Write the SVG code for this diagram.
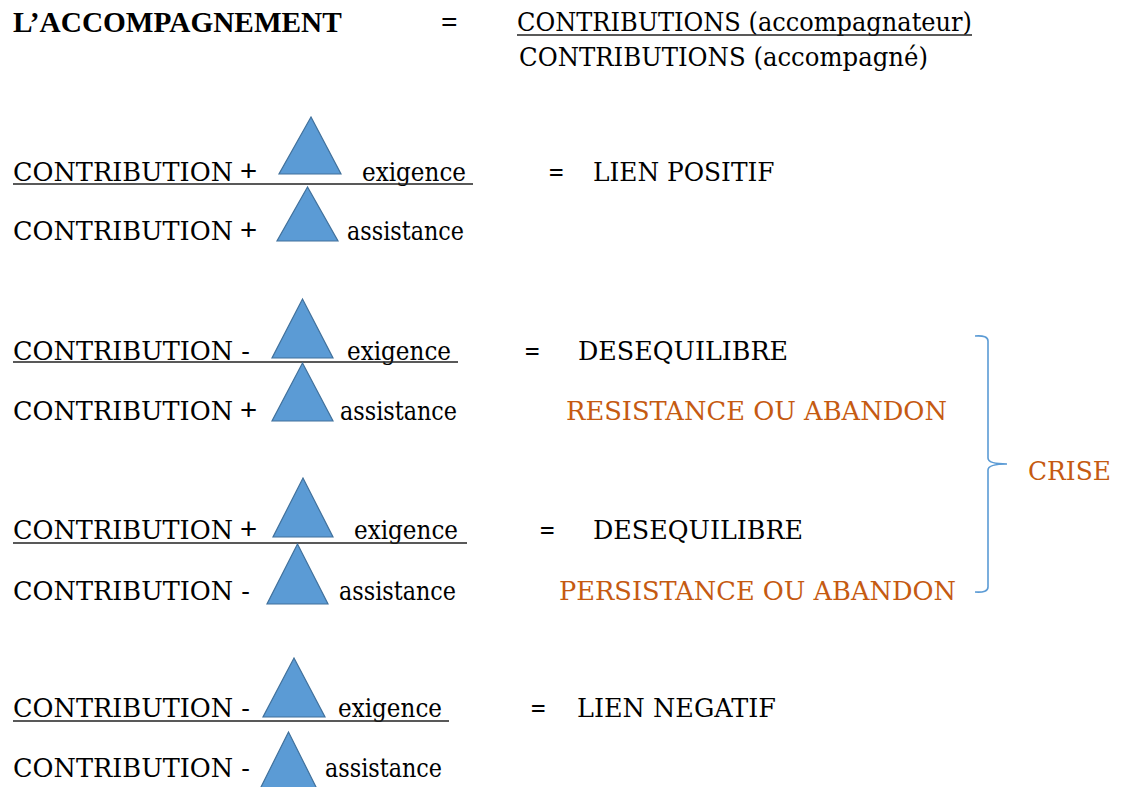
<svg xmlns="http://www.w3.org/2000/svg" width="1121" height="787" viewBox="0 0 1121 787">
<style>
text{font-family:"DejaVu Serif","Liberation Serif",serif;font-size:26.6px;fill:#000}
.lc{font-size:25.4px}
.b{font-family:"Liberation Serif","Times New Roman",serif;font-size:29.3px;font-weight:bold}
.o{fill:#C55A11}
.p{font-family:"Liberation Sans",Arial,sans-serif;font-size:29.3px}
.ul{stroke:#222;stroke-width:1.4}
.tri{fill:#5B9BD5;stroke:#41719C;stroke-width:1.2}
.brace{fill:none;stroke:#5B9BD5;stroke-width:1.6}
</style>
<rect width="1121" height="787" fill="#fff"/>
<g id="header">
<text class="b" x="13" y="32">L’ACCOMPAGNEMENT</text>
<text class="b" x="441" y="32">=</text>
<text x="517" y="31" textLength="455" lengthAdjust="spacingAndGlyphs">CONTRIBUTIONS (accompagnateur)</text>
<line class="ul" x1="517" y1="35" x2="972" y2="35"/>
<text x="519" y="66" textLength="409" lengthAdjust="spacingAndGlyphs">CONTRIBUTIONS (accompagné)</text>
</g>
<g id="row1">
<text x="13" y="181"><tspan textLength="220" lengthAdjust="spacingAndGlyphs">CONTRIBUTION</tspan><tspan class="p" x="240">+</tspan></text>
<polygon class="tri" points="311,117 279,174 341,174"/>
<text class="lc" x="362" y="181" textLength="104" lengthAdjust="spacingAndGlyphs">exigence</text>
<line class="ul" x1="13" y1="184" x2="473" y2="184"/>
<text x="13" y="240"><tspan textLength="220" lengthAdjust="spacingAndGlyphs">CONTRIBUTION</tspan><tspan class="p" x="240">+</tspan></text>
<polygon class="tri" points="307.5,187 277,241 338,241"/>
<text class="lc" x="347" y="240" textLength="117" lengthAdjust="spacingAndGlyphs">assistance</text>
<text x="548" y="181" textLength="16.5" lengthAdjust="spacingAndGlyphs">=</text>
<text x="593" y="181" textLength="181.5" lengthAdjust="spacingAndGlyphs">LIEN POSITIF</text>
</g>
<g id="row2">
<text x="13" y="360" textLength="237" lengthAdjust="spacingAndGlyphs">CONTRIBUTION -</text>
<polygon class="tri" points="302.5,299 272,358 333,358"/>
<text class="lc" x="347" y="360" textLength="104" lengthAdjust="spacingAndGlyphs">exigence</text>
<line class="ul" x1="13" y1="362" x2="458" y2="362"/>
<text x="13" y="420"><tspan textLength="220" lengthAdjust="spacingAndGlyphs">CONTRIBUTION</tspan><tspan class="p" x="240">+</tspan></text>
<polygon class="tri" points="302.5,363 272,421 333,421"/>
<text class="lc" x="340" y="420" textLength="117" lengthAdjust="spacingAndGlyphs">assistance</text>
<text x="524" y="360" textLength="16.5" lengthAdjust="spacingAndGlyphs">=</text>
<text x="578" y="360" textLength="210" lengthAdjust="spacingAndGlyphs">DESEQUILIBRE</text>
<text class="o" x="566" y="420" textLength="381" lengthAdjust="spacingAndGlyphs">RESISTANCE OU ABANDON</text>
</g>
<g id="row3">
<text x="13" y="539"><tspan textLength="220" lengthAdjust="spacingAndGlyphs">CONTRIBUTION</tspan><tspan class="p" x="240">+</tspan></text>
<polygon class="tri" points="303,478 273,537 333,537"/>
<text class="lc" x="354" y="539" textLength="104" lengthAdjust="spacingAndGlyphs">exigence</text>
<line class="ul" x1="13" y1="543" x2="467" y2="543"/>
<text x="13" y="600" textLength="237" lengthAdjust="spacingAndGlyphs">CONTRIBUTION -</text>
<polygon class="tri" points="297.5,544 267,604 328,604"/>
<text class="lc" x="339" y="600" textLength="117" lengthAdjust="spacingAndGlyphs">assistance</text>
<text x="539" y="539" textLength="16.5" lengthAdjust="spacingAndGlyphs">=</text>
<text x="593" y="539" textLength="210" lengthAdjust="spacingAndGlyphs">DESEQUILIBRE</text>
<text class="o" x="559" y="600" textLength="397" lengthAdjust="spacingAndGlyphs">PERSISTANCE OU ABANDON</text>
</g>
<g id="row4">
<text x="13" y="717" textLength="237" lengthAdjust="spacingAndGlyphs">CONTRIBUTION -</text>
<polygon class="tri" points="294,658 263,717 325,717"/>
<text class="lc" x="338" y="717" textLength="104" lengthAdjust="spacingAndGlyphs">exigence</text>
<line class="ul" x1="13" y1="721" x2="449" y2="721"/>
<text x="13" y="777" textLength="237" lengthAdjust="spacingAndGlyphs">CONTRIBUTION -</text>
<polygon class="tri" points="288.5,732 259,791 318,791"/>
<text class="lc" x="325" y="777" textLength="117" lengthAdjust="spacingAndGlyphs">assistance</text>
<text x="530" y="717" textLength="16.5" lengthAdjust="spacingAndGlyphs">=</text>
<text x="577" y="717" textLength="199" lengthAdjust="spacingAndGlyphs">LIEN NEGATIF</text>
</g>
<g id="crise">
<path class="brace" d="M975,336 Q988,335 988,341 L988,458 Q988,464 1007,464 Q988,464 988,470 L988,587 Q988,593 975,592"/>
<text class="o" x="1028" y="480" textLength="83" lengthAdjust="spacingAndGlyphs">CRISE</text>
</g>
</svg>
